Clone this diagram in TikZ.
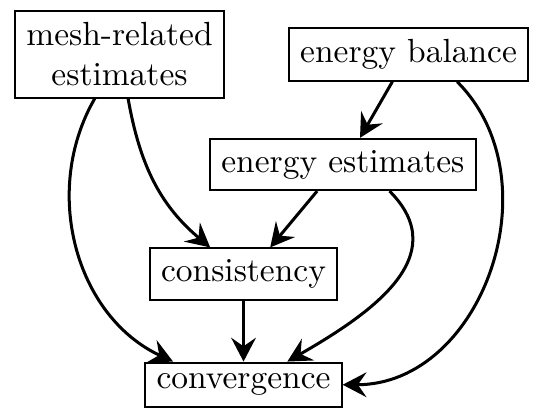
\documentclass[tikz,border=0pt]{standalone}
\usetikzlibrary{arrows.meta}
\begin{document}
\begin{tikzpicture}[
          every node/.style = {shape=rectangle, draw, semithick, align=center},
          link/.style = {-{Stealth[length=2.5mm,width=2.6mm,inset=0.9mm]}, line width=0.9pt}]
          \useasboundingbox (0,0) rectangle (5.607,-4.274);
          % the five steps
          \node (mesh) at (1.255,-0.572) {mesh-related\\estimates};
          \node (balance) at (4.29,-0.572) {energy balance};
          \node (energy) at (3.60,-1.727) {energy estimates};
          \node (consist) at (2.557,-2.877) {consistency};
          \node (conv) at (2.557,-4.04) {convergence};
          % what leads to what
          \draw[link] ([xshift=-2.6mm]mesh.south) to[out=-120,in=155] ([xshift=-7.4mm]conv.north);
          \draw[link] ([xshift=0.9mm]mesh.south) to[out=-80,in=140] ([xshift=-3.5mm]consist.north);
          \draw[link] ([xshift=-1.7mm]balance.south) -- ([xshift=1.8mm]energy.north);
          \draw[link] ([xshift=5.1mm]balance.south) to[out=-45,in=0,looseness=1.1] (conv.east);
          \draw[link] ([xshift=-2.7mm]energy.south) -- ([xshift=2.8mm]consist.north);
          \draw[link] ([xshift=4.9mm]energy.south) to[out=-45,in=30,looseness=1.2] ([xshift=4.6mm]conv.north);
          \draw[link] (consist) -- (conv);
        \end{tikzpicture}
\end{document}
